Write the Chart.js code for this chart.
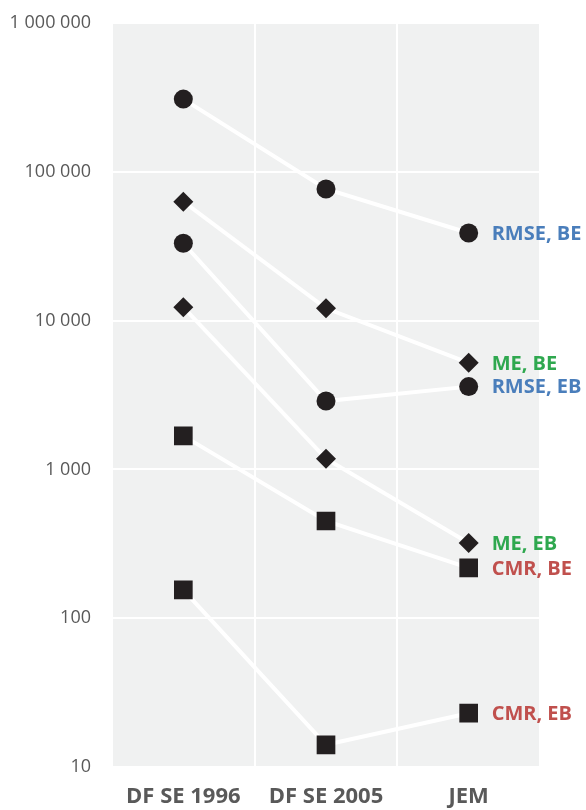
<!DOCTYPE html>
<html>
<head>
<meta charset="utf-8">
<script src="https://cdn.jsdelivr.net/npm/chart.js@4/dist/chart.umd.min.js"></script>
<style>
  html, body { margin: 0; padding: 0; background: #ffffff; }
  #wrap { width: 586px; height: 810px; }
</style>
</head>
<body>
<div id="wrap"><canvas id="c" width="586" height="810"></canvas></div>
<script>
// Categories along the x axis
const categories = ['DF SE 1996', 'DF SE 2005', 'JEM'];

// Error measures per method (log scale)
const rmseBE = [308000, 76600, 38800];
const meBE   = [63000, 12100, 5200];
const rmseEB = [33100, 2880, 3600];
const meEB   = [12300, 1180, 320];
const cmrBE  = [1680, 450, 218];
const cmrEB  = [155, 14.1, 23];

// Series names and label colours
const seriesNames  = ['RMSE, BE', 'ME, BE', 'RMSE, EB', 'ME, EB', 'CMR, BE', 'CMR, EB'];
const seriesColors = ['#4a7ebb', '#2fa84f', '#4a7ebb', '#2fa84f', '#c0504d', '#c0504d'];
const seriesShapes = ['circle', 'rectRot', 'circle', 'rectRot', 'rect', 'rect'];
const seriesValues = [rmseBE, meBE, rmseEB, meEB, cmrBE, cmrEB];

// Decade ticks on the y axis
const yTicks = [10, 100, 1000, 10000, 100000, 1000000];

const markerColor = '#231f20';
const radiusFor = { circle: 9.5, rectRot: 10, rect: 13.2 };

const datasets = seriesValues.map((vals, i) => ({
  label: seriesNames[i],
  data: vals,
  borderColor: '#ffffff',
  borderWidth: 4,
  pointStyle: seriesShapes[i],
  pointRadius: radiusFor[seriesShapes[i]],
  pointHoverRadius: radiusFor[seriesShapes[i]],
  pointBackgroundColor: markerColor,
  pointBorderColor: markerColor,
  pointBorderWidth: 0,
  tension: 0,
  fill: false
}));

// Grey plotting panel
const panelBg = {
  id: 'panelBg',
  beforeDraw(chart) {
    const { ctx, chartArea: a } = chart;
    ctx.save();
    ctx.fillStyle = '#f0f1f1';
    ctx.fillRect(a.left, a.top, a.right - a.left, a.bottom - a.top);
    ctx.restore();
  }
};

// Series names written beside the last point
const endLabels = {
  id: 'endLabels',
  afterDatasetsDraw(chart) {
    const { ctx } = chart;
    ctx.save();
    ctx.font = 'bold 20px "Open Sans", sans-serif';
    ctx.textAlign = 'left';
    ctx.textBaseline = 'middle';
    chart.data.datasets.forEach((ds, i) => {
      const meta = chart.getDatasetMeta(i);
      const pt = meta.data[meta.data.length - 1];
      ctx.fillStyle = seriesColors[i];
      ctx.fillText(ds.label, pt.x + 23, pt.y + 1);
    });
    ctx.restore();
  }
};

const fmt = v => String(Math.round(v)).replace(/\B(?=(\d{3})+(?!\d))/g, ' ');

new Chart(document.getElementById('c'), {
  type: 'line',
  data: { labels: categories, datasets },
  plugins: [panelBg, endLabels],
  options: {
    responsive: false,
    animation: false,
    layout: { padding: { top: 23, right: 46, bottom: 0, left: 0 } },
    plugins: { legend: { display: false }, tooltip: { enabled: false } },
    scales: {
      x: {
        type: 'category',
        offset: true,
        grid: { offset: true, color: '#ffffff', lineWidth: 2, drawTicks: false },
        border: { display: false },
        afterFit(scale) { scale.height = 43; scale.paddingLeft = 0; scale.paddingRight = 0; },
        ticks: {
          color: '#595959',
          padding: 17,
          maxRotation: 0,
          font: { family: '"Open Sans", sans-serif', size: 22, weight: 'bold' }
        }
      },
      y: {
        type: 'logarithmic',
        min: 10,
        max: 1000000,
        afterBuildTicks(scale) { scale.ticks = yTicks.map(v => ({ value: v })); },
        afterFit(scale) { scale.width = 112; scale.paddingTop = 0; scale.paddingBottom = 0; },
        grid: { color: '#ffffff', lineWidth: 2, drawTicks: false },
        border: { display: false },
        ticks: {
          color: '#595959',
          padding: 21,
          font: { family: '"Open Sans", sans-serif', size: 18 },
          callback: v => fmt(v)
        }
      }
    }
  }
});
</script>
</body>
</html>
